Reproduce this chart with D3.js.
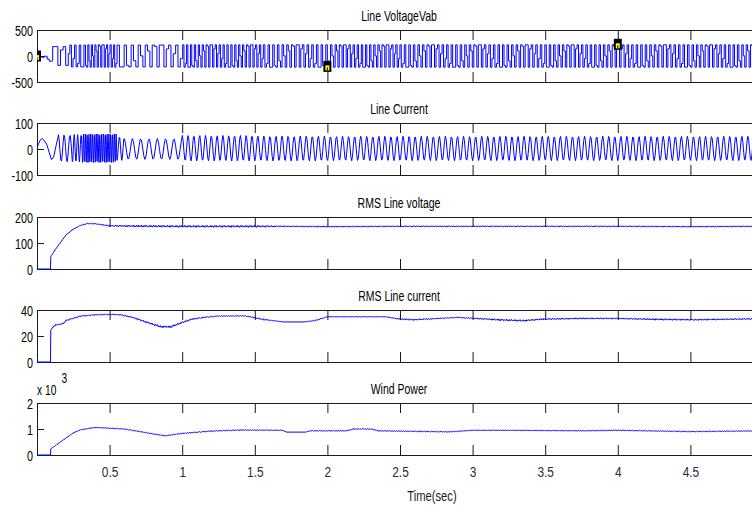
<!DOCTYPE html>
<html><head><meta charset="utf-8">
<script src="https://cdn.jsdelivr.net/npm/d3@7"></script>
<style>body{margin:0;background:#fff}svg{display:block}</style>
</head><body><svg id="c" width="752" height="508"></svg>
<script>
// ---------------- data ----------------
const timeRange = [0, 5];
const xTickValues = [0.5, 1, 1.5, 2, 2.5, 3, 3.5, 4, 4.5];
const xTickLabels = ["0.5", "1", "1.5", "2", "2.5", "3", "3.5", "4", "4.5"];
const xAxisTitle = "Time(sec)";
const panelTitles = ["Line VoltageVab", "Line Current", "RMS Line voltage", "RMS Line current", "Wind Power"];
const yDomains = [[-500, 500], [-100, 100], [0, 200], [0, 40], [0, 2]];
const yTickValues = [[-500, 0, 500], [-100, 0, 100], [0, 100, 200], [0, 20, 40], [0, 1, 2]];
const yTickLabels = [["-500", "0", "500"], ["-100", "0", "100"], ["0", "100", "200"], ["0", "20", "40"], ["0", "1", "2"]];
const powerExponentLabel = "x 10";
const powerExponent = "3";

// Line voltage Vab: start-up samples, then oscillation segments (start time, cycles/s, peak)
const vabStartT = [0, 0.02, 0.035, 0.05, 0.07, 0.085, 0.1, 0.106];
const vabStartV = [0, -15, -25, -5, -60, -100, -100, -90];
const vabSegT   = [0.108, 0.2, 0.33, 0.55, 1.0, 1.55, 2.05, 2.5, 3.0, 3.5, 4.0, 4.5];
const vabSegHz  = [18, 30, 40, 20, 36, 30, 34, 31, 31, 32, 31, 32];
const vabSegAmp = [180, 210, 215, 210, 215, 215, 215, 215, 215, 215, 215, 215];
// data-tip markers
const vabMarkT = [0, 2, 4];
const vabMarkV = [0, -200, 225];

// Line current: start-up samples, then oscillation segments
const curStartT = [0, 0.012, 0.024, 0.036, 0.05, 0.067, 0.085, 0.1, 0.115, 0.13, 0.147];
const curStartV = [5, 22, 36, 40, 33, 18, -15, -41, -30, 10, 50];
const curSegT   = [0.147, 0.24, 0.31, 0.55, 0.6, 1.0, 1.5, 2.0, 3.0, 4.0];
const curSegHz  = [25, 42, 80, 30, 17.5, 25, 24, 24, 24, 24];
const curSegAmp = [52, 53, 55, 46, 40, 49, 48, 47, 47, 47];
const curSegOff = [3, 3, 3, 2, 0, 3, 2, 2, 2, 2];

// RMS line voltage (time, value, ripple)
const rmsVT = [0, 0.093, 0.095, 0.12, 0.15, 0.2, 0.25, 0.3, 0.35, 0.4, 0.45, 0.5, 0.7, 1.0, 1.5, 1.7, 2.0, 2.5, 3.0, 3.5, 4.0, 4.5, 5.0];
const rmsVV = [0, 0, 47, 70, 93, 131, 153, 168, 175, 174, 170, 166, 165, 164, 164, 164, 163, 164, 164, 164, 164, 163, 164];
const rmsVR = [0, 0, 0, 1.5, 1.5, 1.5, 1.5, 1.5, 1.5, 1.5, 2, 3, 4, 4, 4, 2.5, 2.5, 2.5, 2.5, 2.5, 2.5, 2.5, 2.5];

// RMS line current (time, value, ripple)
const rmsIT = [0, 0.093, 0.095, 0.11, 0.13, 0.18, 0.2, 0.3, 0.4, 0.5, 0.57, 0.66, 0.75, 0.85, 0.92, 0.99, 1.07, 1.15, 1.24, 1.43, 1.49, 1.56, 1.70, 1.84, 1.92, 2.0, 2.4, 2.5, 2.6, 2.9, 3.19, 3.35, 3.49, 3.75, 4.0, 4.25, 4.53, 5.0];
const rmsIV = [0, 0, 24.5, 27, 28.5, 29.5, 32, 35.3, 36.3, 36.6, 36.4, 34.3, 30.8, 27.2, 27, 30, 33, 34.3, 35.3, 35.5, 34.3, 32.7, 30.8, 30.8, 32, 34.8, 34.8, 33, 32.5, 34.3, 32.4, 31.8, 33, 33.5, 33.5, 32.8, 32.5, 33.3];
const rmsIR = [0, 0, 0, 0.5, 0.5, 0.5, 0.5, 0.5, 0.4, 0.3, 0.5, 0.6, 0.7, 0.8, 0.8, 0.7, 0.6, 0.5, 0.3, 0.3, 0.5, 0.6, 0, 0, 0.5, 0.2, 0.2, 0.6, 0.6, 0.4, 0.7, 0.7, 0.6, 0.6, 0.5, 0.7, 0.6, 0.6];

// Wind power, x10^3 (time, value, ripple)
const windT = [0, 0.093, 0.095, 0.12, 0.15, 0.2, 0.25, 0.3, 0.4, 0.5, 0.6, 0.7, 0.8, 0.88, 1.0, 1.2, 1.4, 1.69, 1.72, 1.85, 1.88, 2.13, 2.18, 2.3, 2.35, 2.84, 3.0, 3.25, 3.76, 4.0, 4.5, 5.0];
const windV = [0, 0, 0.24, 0.33, 0.46, 0.65, 0.85, 0.97, 1.06, 1.03, 1.0, 0.91, 0.81, 0.74, 0.83, 0.92, 0.96, 0.95, 0.88, 0.88, 0.93, 0.93, 1.0, 1.0, 0.93, 0.89, 0.95, 0.95, 0.93, 0.95, 0.9, 0.93];
const windR = [0, 0, 0, 0.01, 0.01, 0.01, 0.01, 0.01, 0.01, 0.01, 0.015, 0.02, 0.02, 0.02, 0.02, 0.02, 0.015, 0.015, 0, 0, 0.015, 0.015, 0.02, 0.02, 0.015, 0.015, 0.01, 0.01, 0.015, 0.015, 0.015, 0.015];

// ---------------- build series ----------------
function segIndex(segT, t) { let k = 0; while (k + 1 < segT.length && t >= segT[k + 1]) k++; return k; }

function oscillation(startT, startV, segT, segHz, segAmp, segOff, spc, squareK, ph0) {
  const pts = startT.map((t, i) => [t, startV[i]]);
  let t = segT[0], ph = ph0;
  while (t <= 5.02) {
    const k = segIndex(segT, t);
    let s = Math.sin(ph);
    if (squareK) s = Math.max(-1, Math.min(1, squareK * s));
    pts.push([t, (segOff ? segOff[k] : 0) + segAmp[k] * s]);
    t += 1 / (spc * segHz[k]);
    ph += 2 * Math.PI / spc;
  }
  return pts;
}

function rippled(T, V, R, step) {
  const pat = [1, -0.7, 0.5, -1, 0.8, -0.4, 0.9, -0.8, 0.3, -0.6];
  const pts = []; let n = 0;
  for (let i = 0; i < T.length - 1; i++) {
    const t0 = T[i], t1 = T[i + 1];
    if (R[i] === 0 && R[i + 1] === 0) { pts.push([t0, V[i]]); continue; }
    for (let t = t0; t < t1 - 1e-9; t += step) {
      const f = (t - t0) / (t1 - t0);
      const r = R[i] + (R[i + 1] - R[i]) * f;
      pts.push([t, V[i] + (V[i + 1] - V[i]) * f + r * pat[n++ % pat.length]]);
    }
  }
  pts.push([T[T.length - 1], V[V.length - 1]]);
  return pts;
}

const series = [
  oscillation(vabStartT, vabStartV, vabSegT, vabSegHz, vabSegAmp, null, 3.1, 2.2, 0.5),
  oscillation(curStartT, curStartV, curSegT, curSegHz, curSegAmp, curSegOff, 7.3, 0, Math.PI / 2),
  rippled(rmsVT, rmsVV, rmsVR, 0.006),
  rippled(rmsIT, rmsIV, rmsIR, 0.006),
  rippled(windT, windV, windR, 0.006)
];
const curves = [d3.curveStepAfter, d3.curveLinear, d3.curveLinear, d3.curveLinear, d3.curveLinear];

// ---------------- draw ----------------
const svg = d3.select("#c");
const FONT = "'Liberation Sans', Arial, sans-serif";
const x = d3.scaleLinear().domain(timeRange).range([37, 763]);
const panelTop = [30, 123, 217, 310, 403];
const panelH = 52;
const axisColor = "#1a1a1a";

panelTitles.forEach((title, i) => {
  const top = panelTop[i], bot = top + panelH;
  const y = d3.scaleLinear().domain(yDomains[i]).range([bot, top]);
  const g = svg.append("g");

  const axB = g.append("g").attr("transform", `translate(0,${bot})`)
    .call(d3.axisBottom(x).tickValues(xTickValues).tickSizeInner(-10).tickSizeOuter(0)
      .tickFormat((d, j) => i === 4 ? xTickLabels[j] : ""));
  const axT = g.append("g").attr("transform", `translate(0,${top})`)
    .call(d3.axisTop(x).tickValues(xTickValues).tickSizeInner(-10).tickSizeOuter(0).tickFormat(""));
  const axL = g.append("g").attr("transform", `translate(37,0)`)
    .call(d3.axisLeft(y).tickValues(yTickValues[i]).tickSizeInner(-7).tickSizeOuter(0).tickPadding(4)
      .tickFormat((d, j) => yTickLabels[i][j]));
  [axB, axT, axL].forEach(a => {
    a.attr("color", axisColor).attr("font-family", FONT).attr("font-size", 15);
    a.selectAll("path.domain").attr("stroke-width", 1);
  });
  axL.selectAll("text").attr("x", null).attr("dy", null).attr("fill", "#000")
    .attr("transform", "translate(-4,5.3) scale(0.72,1)");
  if (i === 4) {
    axB.selectAll("text").attr("y", null).attr("dy", null).attr("fill", "#2a2a3a").attr("font-size", 14)
      .attr("transform", "translate(0,22) scale(0.85,1)");
  }

  g.append("text").attr("transform", `translate(399,${top - 9.5}) scale(0.7,1)`)
    .attr("text-anchor", "middle").attr("font-family", FONT).attr("font-size", 15).attr("fill", "#000")
    .text(title);

  const clipId = "clip" + i;
  svg.append("clipPath").attr("id", clipId).append("rect")
    .attr("x", 37).attr("y", top - 1).attr("width", 726).attr("height", panelH + 2);
  const line = d3.line().x(d => x(d[0])).y(d => y(d[1])).curve(curves[i]);
  g.append("path").datum(series[i]).attr("clip-path", `url(#${clipId})`)
    .attr("fill", "none").attr("stroke", "#0000ff").attr("stroke-width", 1)
    .attr("d", line);

  if (i === 0) {
    const mk = g.append("g").attr("clip-path", `url(#${clipId})`);
    vabMarkT.forEach((t, j) => {
      const cx = x(t), cy = y(vabMarkV[j]);
      mk.append("rect").attr("x", cx - 4).attr("y", cy - 5.5).attr("width", 8).attr("height", 11).attr("fill", "#000");
      mk.append("rect").attr("x", cx - 2).attr("y", cy - 1).attr("width", 4).attr("height", 5).attr("fill", "#ffff00");
      mk.append("rect").attr("x", cx - 0.5).attr("y", cy + 1).attr("width", 1).attr("height", 3).attr("fill", "#000");
    });
  }
  if (i === 4) {
    g.append("text").attr("transform", `translate(37,395) scale(0.73,1)`)
      .attr("font-family", FONT).attr("font-size", 14).attr("fill", "#000").text(powerExponentLabel);
    g.append("text").attr("transform", `translate(61.5,383) scale(0.73,1)`)
      .attr("font-family", FONT).attr("font-size", 14).attr("fill", "#000").text(powerExponent);
  }
});

svg.append("text").attr("transform", "translate(432,501) scale(0.8,1)")
  .attr("text-anchor", "middle").attr("font-family", FONT).attr("font-size", 14).attr("fill", "#1a1a2a")
  .text(xAxisTitle);
</script>
</body></html>
